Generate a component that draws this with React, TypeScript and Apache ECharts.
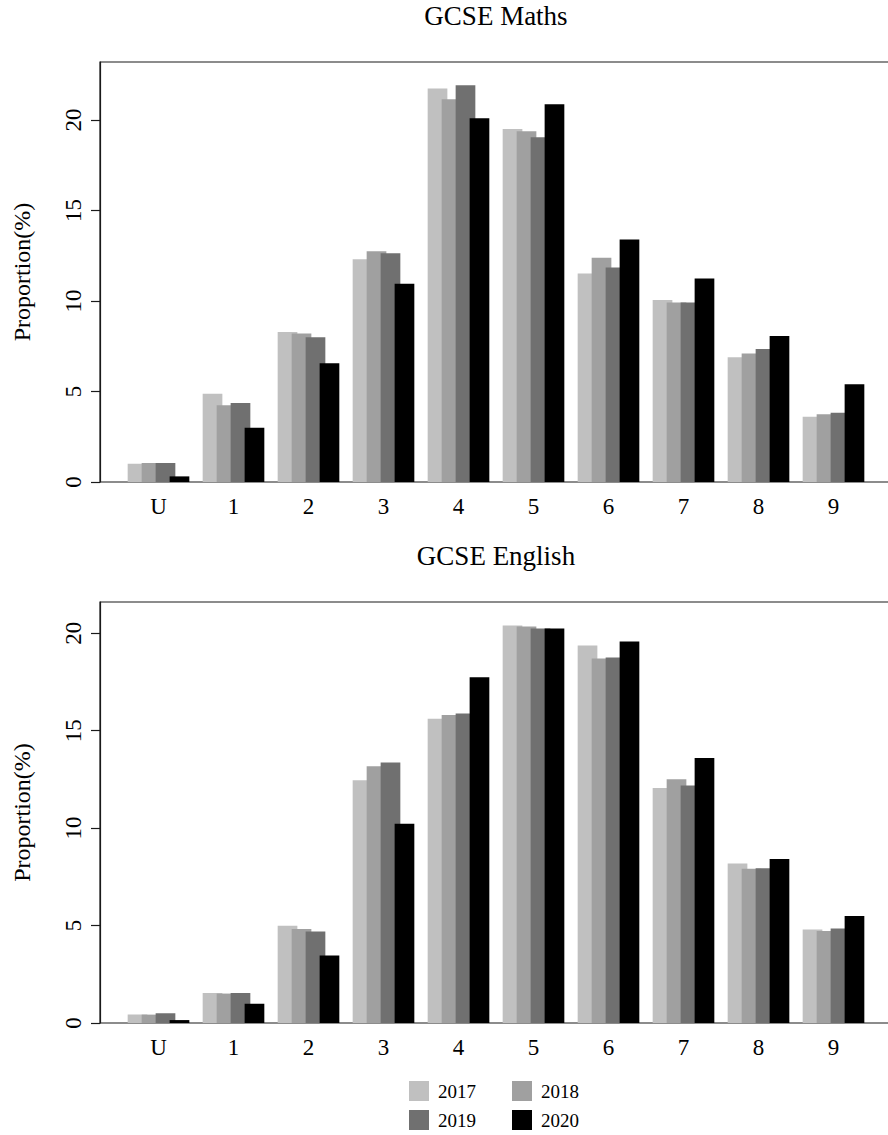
import React, { useEffect, useRef } from "react";
import * as echarts from "echarts";

const categories = ["U", "1", "2", "3", "4", "5", "6", "7", "8", "9"];
const years = ["2017", "2018", "2019", "2020"];
const yearColors = ["#c0c0c0", "#a0a0a0", "#707070", "#000000"];

const maths2017 = [1.01, 4.87, 8.29, 12.31, 21.73, 19.5, 11.52, 10.05, 6.89, 3.61];
const maths2018 = [1.05, 4.24, 8.2, 12.74, 21.14, 19.37, 12.39, 9.92, 7.1, 3.74];
const maths2019 = [1.05, 4.37, 8.0, 12.63, 21.92, 19.04, 11.85, 9.92, 7.34, 3.83];
const maths2020 = [0.31, 3.0, 6.56, 10.95, 20.09, 20.87, 13.4, 11.24, 8.06, 5.4];

const english2017 = [0.43, 1.54, 4.99, 12.45, 15.61, 20.39, 19.37, 12.06, 8.18, 4.8];
const english2018 = [0.43, 1.51, 4.82, 13.17, 15.8, 20.34, 18.7, 12.5, 7.92, 4.72];
const english2019 = [0.5, 1.54, 4.7, 13.36, 15.88, 20.24, 18.75, 12.18, 7.94, 4.85];
const english2020 = [0.15, 0.99, 3.46, 10.22, 17.74, 20.24, 19.57, 13.6, 8.42, 5.49];

const yTicks = [0, 5, 10, 15, 20];
const mathsMax = 23.2;
const englishMax = 21.6;

const FONT = "'Liberation Serif', 'DejaVu Serif', serif";

export default function App() {
  const ref = useRef<HTMLDivElement>(null);

  useEffect(() => {
    if (!ref.current) return;
    const chart = echarts.init(ref.current, undefined, { renderer: "svg" });

    const mathsData = [maths2017, maths2018, maths2019, maths2020];
    const englishData = [english2017, english2018, english2019, english2020];

    const barGrid = (top: number, height: number) => ({
      left: 121,
      top,
      width: 750,
      height,
      outerBoundsMode: "none",
      containLabel: false,
    });
    const boxGrid = (top: number, height: number) => ({
      left: 100,
      top,
      width: 792,
      height,
      show: true,
      borderColor: "#1a1a1a",
      borderWidth: 1.2,
      backgroundColor: "transparent",
      outerBoundsMode: "none",
      containLabel: false,
    });

    const catAxis = (gridIndex: number) => ({
      type: "category",
      gridIndex,
      data: categories,
      boundaryGap: true,
      axisLine: { show: false },
      axisTick: { show: false },
      axisLabel: {
        fontSize: 23,
        fontFamily: FONT,
        color: "#000",
        margin: 13,
      },
      splitLine: { show: false },
    });
    const valAxis = (gridIndex: number, max: number) => ({
      type: "value",
      gridIndex,
      min: 0,
      max,
      interval: 5,
      offset: 21,
      axisLine: { show: true, lineStyle: { color: "#1a1a1a", width: 1.2 } },
      axisTick: {
        show: true,
        inside: false,
        length: 9,
        lineStyle: { color: "#1a1a1a", width: 1.2 },
        customValues: yTicks,
      },
      axisLabel: {
        show: true,
        rotate: 90,
        fontSize: 23,
        fontFamily: FONT,
        color: "#000",
        margin: 15,
        customValues: yTicks,
      },
      splitLine: { show: false },
      name: "Proportion(%)",
      nameLocation: "middle",
      nameRotate: 90,
      nameGap: 66,
      nameTextStyle: { fontSize: 24, fontFamily: FONT, color: "#000" },
    });
    const hiddenX = (gridIndex: number) => ({ type: "value", gridIndex, show: false, min: 0, max: 1 });
    const hiddenY = (gridIndex: number) => ({ type: "value", gridIndex, show: false, min: 0, max: 1 });

    const makeSeries = (data: number[][], axisIndex: number) =>
      years.map((y, i) => ({
        type: "bar",
        name: y,
        xAxisIndex: axisIndex,
        yAxisIndex: axisIndex,
        data: data[i],
        barWidth: 19.7,
        barGap: "-29%",
        itemStyle: { color: yearColors[i] },
        emphasis: { disabled: true },
      }));

    const legendBase = {
      orient: "horizontal",
      left: 409,
      itemWidth: 20,
      itemHeight: 20,
      itemGap: 36,
      padding: 0,
      icon: "rect",
      selectedMode: false,
      textStyle: {
        fontSize: 19,
        fontFamily: FONT,
        color: "#000",
        padding: [0, 0, 0, 4],
      },
    };

    const titleStyle = { fontSize: 27, fontWeight: "normal", fontFamily: FONT, color: "#000" };

    chart.setOption({
      animation: false,
      backgroundColor: "#ffffff",
      color: yearColors,
      title: [
        { text: "GCSE Maths", left: 491, top: -3, textAlign: "center", textStyle: titleStyle },
        { text: "GCSE English", left: 491, top: 537, textAlign: "center", textStyle: titleStyle },
      ],
      legend: [
        { ...legendBase, top: 1081, data: ["2017", "2018"] },
        { ...legendBase, top: 1110, data: ["2019", "2020"] },
      ],
      grid: [barGrid(62, 420), boxGrid(62, 420), barGrid(602, 421), boxGrid(602, 421)],
      xAxis: [catAxis(0), hiddenX(1), catAxis(2), hiddenX(3)],
      yAxis: [valAxis(0, mathsMax), hiddenY(1), valAxis(2, englishMax), hiddenY(3)],
      series: [...makeSeries(mathsData, 0), ...makeSeries(englishData, 2)],
    });

    return () => chart.dispose();
  }, []);

  return (
    <div
      ref={ref}
      style={{ position: "absolute", left: 0, top: 0, width: 888, height: 1135 }}
    />
  );
}
